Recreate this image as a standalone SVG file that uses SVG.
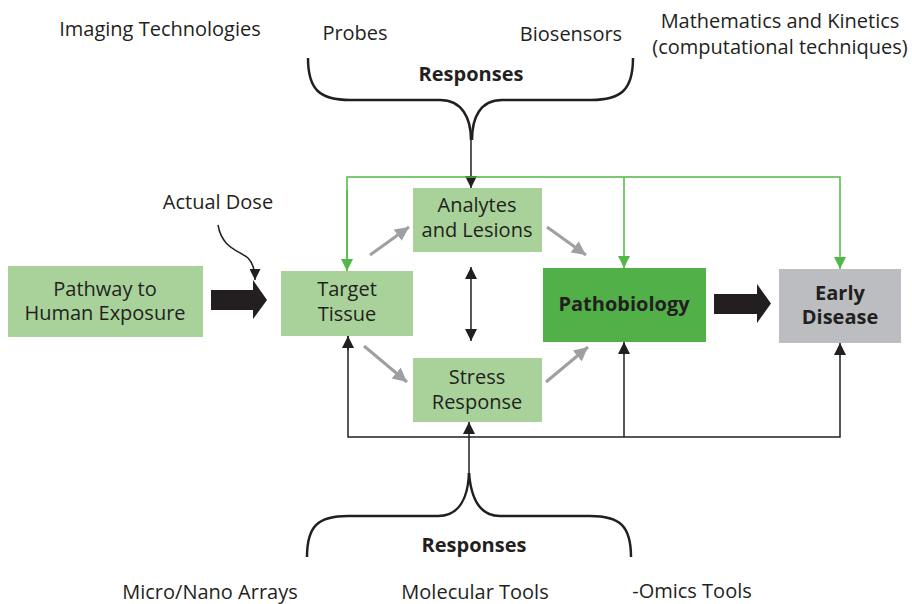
<svg xmlns="http://www.w3.org/2000/svg" width="912" height="604" viewBox="0 0 912 604">
<style>
text{font-family:"Open Sans","Liberation Sans",sans-serif;font-size:20px;fill:#231f20;text-anchor:middle}
.b{font-weight:bold}
.lg{fill:#a8d29a}
.gl{stroke:#52b848;stroke-width:1.5;fill:none}
.bl{stroke:#231f20;stroke-width:1.5;fill:none}
.gr{stroke:#9d9fa2;stroke-width:3;fill:none}
.br{stroke:#231f20;stroke-width:2.5;fill:none}
</style>
<defs>
<marker id="ag" viewBox="0 0 10 10" refX="10" refY="5" markerWidth="12" markerHeight="12" markerUnits="userSpaceOnUse" orient="auto"><path d="M0,0L10,5L0,10z" fill="#52b848"/></marker>
<marker id="ab" viewBox="0 0 10 10" refX="10" refY="5" markerWidth="12" markerHeight="12" markerUnits="userSpaceOnUse" orient="auto-start-reverse"><path d="M0,0L10,5L0,10z" fill="#231f20"/></marker>
<marker id="aa" viewBox="0 0 10 10" refX="10" refY="5" markerWidth="14" markerHeight="14" markerUnits="userSpaceOnUse" orient="auto"><path d="M0,0L10,5L0,10z" fill="#9d9fa2"/></marker>
<marker id="ad" viewBox="0 0 10 10" refX="10" refY="5" markerWidth="11" markerHeight="11" markerUnits="userSpaceOnUse" orient="auto"><path d="M0,0L10,5L0,10z" fill="#231f20"/></marker>
</defs>
<g id="labels">
<text x="160" y="36">Imaging Technologies</text>
<text x="355" y="40">Probes</text>
<text x="571" y="41">Biosensors</text>
<text x="780" y="28">Mathematics and Kinetics</text>
<text x="780" y="54">(computational techniques)</text>
<text x="210" y="599">Micro/Nano Arrays</text>
<text x="475" y="599">Molecular Tools</text>
<text x="692" y="598">-Omics Tools</text>
<text x="218" y="209">Actual Dose</text>
</g>
<g id="connectors">
<path class="br" d="M308,58 C308,90 320,100 350,100 L440,100 C462,100 471,118 471,140"/>
<path class="br" d="M633,58 C633,90 621,100 591,100 L502,100 C480,100 472,118 472,140"/>
<text class="b" x="471" y="81">Responses</text>
<path class="br" d="M307,557 C307,526 318,516 348,516 L438,516 C459,516 468,498 469,473"/>
<path class="br" d="M631,557 C631,526 620,516 590,516 L500,516 C480,516 471,498 469,473"/>
<text class="b" x="474" y="552">Responses</text>
<line class="bl" x1="471" y1="140" x2="471" y2="188" marker-end="url(#ab)"/>
<path class="gl" d="M347,271 V177 H840 V269" marker-end="url(#ag)"/>
<line class="gl" x1="347" y1="190" x2="347" y2="271" marker-end="url(#ag)"/>
<line class="gl" x1="624" y1="177" x2="624" y2="268" marker-end="url(#ag)"/>
<path class="bl" d="M469,473 V422" marker-end="url(#ab)"/>
<path class="bl" d="M348,336 V437 H840 V343" marker-end="url(#ab)"/>
<line class="bl" x1="348" y1="350" x2="348" y2="336" marker-end="url(#ab)"/>
<line class="bl" x1="624" y1="437" x2="624" y2="342" marker-end="url(#ab)"/>
<line class="bl" x1="471" y1="267" x2="471" y2="341" stroke-width="2.5" marker-start="url(#ab)" marker-end="url(#ab)"/>
<line class="gr" x1="370" y1="255" x2="409" y2="227" marker-end="url(#aa)"/>
<line class="gr" x1="547" y1="227" x2="586" y2="255" marker-end="url(#aa)"/>
<line class="gr" x1="364" y1="346" x2="407" y2="382" marker-end="url(#aa)"/>
<line class="gr" x1="546" y1="382" x2="588" y2="347" marker-end="url(#aa)"/>
<path class="bl" d="M218,225 C222,248 238,250 248,258 C253,263 255,270 255,280" stroke-width="1.2" marker-end="url(#ad)"/>
<path d="M211,290 H253 V280 L267,300 L253,319 V310 H211 Z" fill="#231f20"/>
<path d="M714,294 H757 V284 L771,303.5 L757,323 V314 H714 Z" fill="#231f20"/>
</g>
<g id="pathway"><rect class="lg" x="8" y="266" width="195" height="71"/><text x="105" y="296">Pathway to</text><text x="105" y="320">Human Exposure</text></g>
<g id="target"><rect class="lg" x="281" y="271" width="132" height="65"/><text x="347" y="296">Target</text><text x="347" y="321">Tissue</text></g>
<g id="analytes"><rect class="lg" x="413" y="188" width="129" height="64"/><text x="477" y="212">Analytes</text><text x="477" y="237">and Lesions</text></g>
<g id="stress"><rect class="lg" x="413" y="358" width="129" height="64"/><text x="477" y="384">Stress</text><text x="477" y="409">Response</text></g>
<g id="pathobiology"><rect x="543" y="268" width="163" height="74" fill="#52b048"/><text class="b" x="624" y="311">Pathobiology</text></g>
<g id="early"><rect x="779" y="269" width="122" height="74" fill="#bcbdc1"/><text class="b" x="840" y="300">Early</text><text class="b" x="840" y="324">Disease</text></g>
</svg>
